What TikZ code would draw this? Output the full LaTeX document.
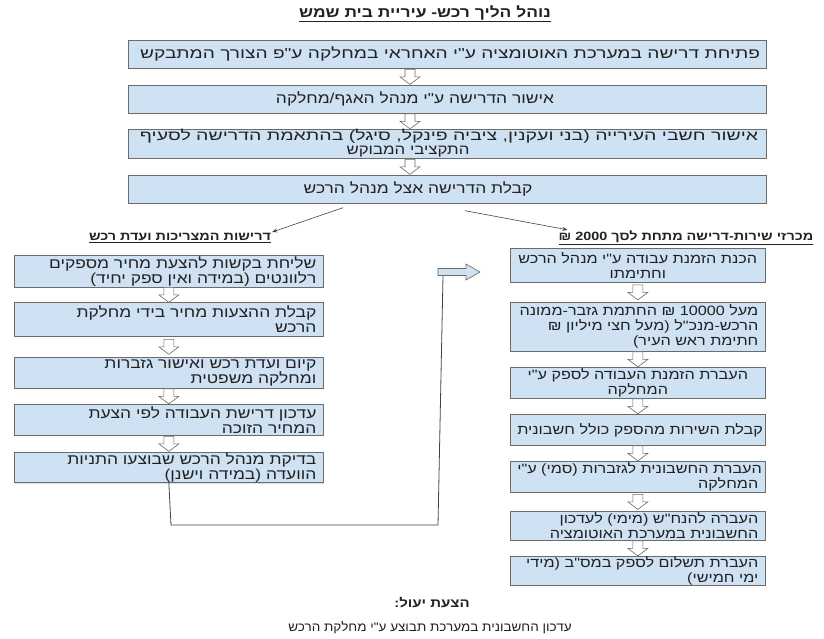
\documentclass[tikz,border=0pt]{standalone}
\usepackage{fontspec}
\usetikzlibrary{shadows,calc,arrows.meta}
\TeXXeTstate=1
\newfontfamily\hebT[Script=Hebrew,FakeStretch=1.2,WordSpace=1.4]{Liberation Sans}
\newfontfamily\hebL[Script=Hebrew,FakeStretch=1.2,WordSpace=1.2]{Liberation Sans}
\newfontfamily\hebR[Script=Hebrew,FakeStretch=1.2]{Liberation Sans}
\newfontfamily\hebH[Script=Hebrew,FakeStretch=1.2]{Liberation Sans}
\newfontfamily\hebB[Script=Hebrew,FakeStretch=1.08]{Liberation Sans}
\newcommand\R[1]{\mbox{\beginR #1\endR}}
\definecolor{boxfill}{HTML}{CFE2F3}
\definecolor{boxline}{HTML}{6B6B6B}
\definecolor{txt}{HTML}{222222}
\definecolor{lnk}{HTML}{444444}
\begin{document}
\begin{tikzpicture}[x=1pt,y=-1pt,
  tx/.style={font=\hebT\fontsize{14.5}{15}\selectfont, text=txt, inner sep=0pt},
  box/.style={draw=boxline, fill=boxfill, line width=0.7pt, inner xsep=7pt, inner ysep=0pt,
    anchor=north west, text=txt,
    drop shadow={shadow xshift=0.8pt,shadow yshift=-1pt,opacity=0.25}},
  lbox/.style={box, minimum width=309pt, text width=295pt, align=right, font=\hebL\fontsize{14.5}{15.5}\selectfont},
  rbox/.style={box, minimum width=255pt, text width=241pt, font=\hebR\fontsize{13.5}{15}\selectfont},
  hdr/.style={font=\hebH\bfseries\fontsize{12}{13}\selectfont, text=txt, inner sep=1pt},
  conn/.style={draw=lnk, line width=0.6pt, -{Stealth[length=5pt,width=4pt]}},
  conn2/.style={draw=lnk, line width=0.8pt},
  dnarr/.pic={\draw[boxline, fill=white, line width=0.6pt] (-5,-7.5) -- (5,-7.5) -- (5,0) -- (10,0) -- (0,7.5) -- (-10,0) -- (-5,0) -- cycle;}
]
\useasboundingbox[fill=white] (0,0) rectangle (824,638);

% title
\node[hdr, font=\hebH\bfseries\fontsize{14.5}{15}\selectfont] (title) at (425,14) {\underline{\R{נוהל הליך רכש- עיריית בית שמש}}};

% top boxes
\node[box, minimum width=638pt, minimum height=28pt] (b1) at (128,40) {};
\node[box, minimum width=638pt, minimum height=28pt] (b2) at (128,85) {};
\node[box, minimum width=638pt, minimum height=29pt] (b3) at (128,129) {};
\node[box, minimum width=638pt, minimum height=28pt] (b4) at (128,175) {};
\node[tx] (b1t) at (450,54) {\scalebox{1.1}[1]{\R{פתיחת דרישה במערכת האוטומציה ע"י האחראי במחלקה ע"פ הצורך המתבקש}}};
\node[tx] (b2t) at (415,99) {\R{אישור הדרישה ע"י מנהל האגף/מחלקה}};
\node[tx, font=\hebT\fontsize{14}{14}\selectfont] (b3t) at (449,136) {\scalebox{1.16}[1]{\R{אישור חשבי העירייה (בני ועקנין, ציביה פינקל, סיגל) בהתאמת הדרישה לסעיף}}};
\node[tx, font=\hebT\fontsize{14}{14}\selectfont] (b3u) at (408,152) {\R{התקציבי המבוקש}};
\node[tx] (b4t) at (418,189) {\R{קבלת הדרישה אצל מנהל הרכש}};

\coordinate (tx) at (410,0);
\pic at ($(b1.south -| tx)!.5!(b2.north -| tx)$) {dnarr};
\pic at ($(b2.south -| tx)!.5!(b3.north -| tx)$) {dnarr};
\pic at ($(b3.south -| tx)!.5!(b4.north -| tx)$) {dnarr};

% headers
\node[hdr] (lhead) at (180,238) {\underline{\R{דרישות המצריכות ועדת רכש}}};
\node[hdr] (rhead) at (686,238) {\underline{\R{מכרזי שירות-דרישה מתחת לסך 2000 ₪}}};

\draw[conn] ([shift={(215,4)}]b4.south west) -- (lhead.north east);
\draw[conn] ([shift={(337,7)}]b4.south west) -- ([xshift=10pt]rhead.north west);

% left column
\node[lbox, minimum height=32pt] (L1) at (14,255) {\R{שליחת בקשות להצעת מחיר מספקים}\\\R{רלוונטים (במידה ואין ספק יחיד)}};
\node[lbox, minimum height=34pt] (L2) at (14,302) {\R{קבלת ההצעות מחיר בידי מחלקת}\\\R{הרכש}};
\node[lbox, minimum height=31pt] (L3) at (14,357) {\R{קיום ועדת רכש ואישור גזברות}\\\R{ומחלקה משפטית}};
\node[lbox, minimum height=31pt] (L4) at (14,404) {\R{עדכון דרישת העבודה לפי הצעת}\\\R{המחיר הזוכה}};
\node[lbox, minimum height=30pt] (L5) at (14,452) {\R{בדיקת מנהל הרכש שבוצעו התניות}\\\R{הוועדה (במידה וישנן)}};
\pic at ($(L1.south)!.5!(L2.north)$) {dnarr};
\pic at ($(L2.south)!.5!(L3.north)$) {dnarr};
\pic at ($(L3.south)!.5!(L4.north)$) {dnarr};
\pic at ($(L4.south)!.5!(L5.north)$) {dnarr};

% right column
\node[rbox, align=center, minimum height=34pt] (R1) at (510,248) {\R{הכנת הזמנת עבודה ע"י מנהל הרכש}\\\R{וחתימתו}};
\node[rbox, align=right, minimum height=49pt] (R2) at (510,302) {\R{מעל 10000 ₪ החתמת גזבר-ממונה}\\\R{הרכש-מנכ"ל (מעל חצי מיליון ₪}\\\R{חתימת ראש העיר)}};
\node[rbox, align=center, minimum height=31pt] (R3) at (510,367) {\R{העברת הזמנת העבודה לספק ע"י}\\\R{המחלקה}};
\node[rbox, align=right, minimum height=31pt] (R4) at (510,414) {\R{קבלת השירות מהספק כולל חשבונית}};
\node[rbox, align=right, minimum height=31pt] (R5) at (510,461) {\R{העברת החשבונית לגזברות (סמי) ע"י}\\\R{המחלקה}};
\node[rbox, align=right, minimum height=29pt] (R6) at (510,511) {\R{העברה להנח"ש (מימי) לעדכון}\\\R{החשבונית במערכת האוטומציה}};
\node[rbox, align=right, minimum height=29pt] (R7) at (510,556) {\R{העברת תשלום לספק במס"ב (מידי}\\\R{ימי חמישי)}};
\pic at ($(R1.south)!.5!(R2.north)$) {dnarr};
\pic at ($(R2.south)!.5!(R3.north)$) {dnarr};
\pic at ($(R3.south)!.5!(R4.north)$) {dnarr};
\pic at ($(R4.south)!.5!(R5.north)$) {dnarr};
\pic at ($(R5.south)!.5!(R6.north)$) {dnarr};
\pic at ($(R6.south)!.5!(R7.north)$) {dnarr};

% link from left column to right column
\coordinate (ra) at (443,275.5);
\coordinate (c1) at (171,525);
\coordinate (c2) at (438,525);
\draw[conn2] (L5.south) -- (c1) -- (c2) -- (ra);
\draw[boxline, fill=boxfill, line width=0.6pt, line join=miter]
  (438,268.5) -- (466,268.5) -- (466,264) -- (480,272) -- (466,280) -- (466,275.5) -- (438,275.5) -- cycle;

% suggestion
\node[hdr, font=\hebH\bfseries\fontsize{12.5}{14}\selectfont] (sug) at (432,603) {\R{הצעת יעול:}};
\node[tx, font=\hebB\fontsize{12.5}{14}\selectfont] (sugt) at (430,628) {\R{עדכון החשבונית במערכת תבוצע ע"י מחלקת הרכש}};
\end{tikzpicture}
\end{document}
